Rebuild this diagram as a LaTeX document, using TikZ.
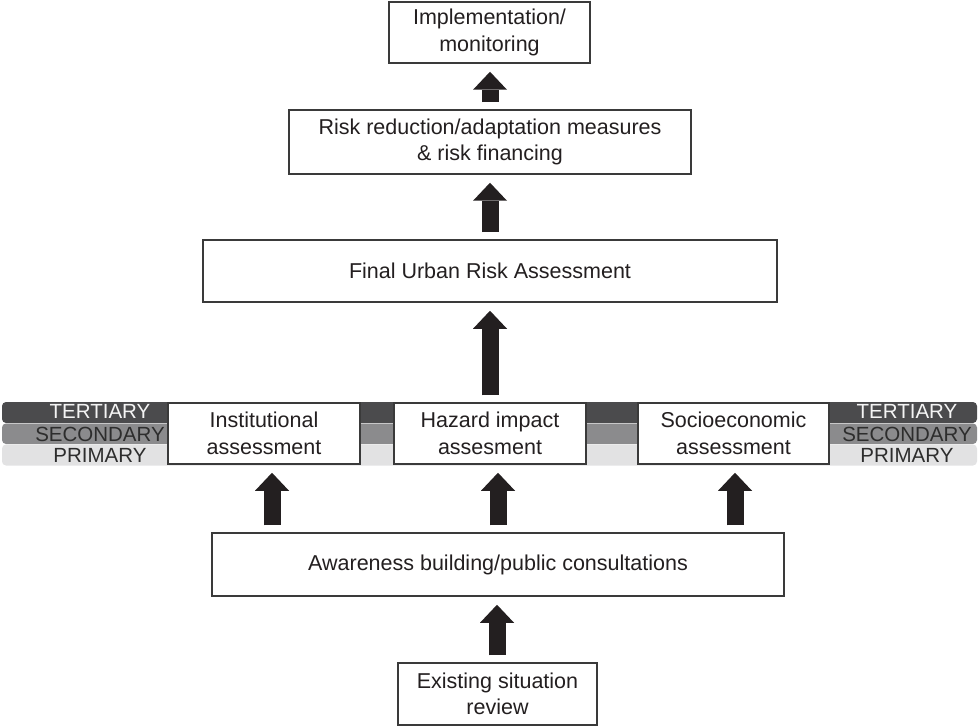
\documentclass[tikz,border=0pt]{standalone}
\usepackage{fontspec}
\setmainfont{Liberation Sans}
\usetikzlibrary{arrows.meta}
\definecolor{ink}{HTML}{231F20}
\definecolor{edge}{HTML}{3A3A3A}
\definecolor{bandT}{HTML}{4B4B4D}
\definecolor{bandS}{HTML}{8B8B8D}
\definecolor{bandP}{HTML}{E2E2E3}
\definecolor{tierdark}{HTML}{2D2D2D}
\definecolor{tierlight}{HTML}{F4F4F4}
\begin{document}
\begin{tikzpicture}[x=1pt, y=-1pt, font=\fontsize{21.5}{26.5}\selectfont]
	\tikzstyle{stage} = [draw=edge, line width=1.5pt, fill=white, text=ink, align=center, inner sep=0pt]
	\tikzstyle{band}  = [rounded corners=4pt]
	\tikzstyle{tier}  = [font=\fontsize{20.5}{20.5}\selectfont, inner sep=0pt, anchor=center]
	\tikzstyle{lift}  = [draw=ink, line width=17pt, -{Triangle[width=34pt, length=18pt, line width=0pt]}, shorten <=7pt, shorten >=8pt]

	\useasboundingbox (0,0) rectangle (979,727);

	% the three levels behind the middle row
	\fill[band, bandT] (2,402) rectangle (977,423);
	\fill[band, bandS] (2,423.5) rectangle (977,444);
	\fill[band, bandP] (2,444.5) rectangle (977,465.5);

	\foreach \lab/\y/\col in {TERTIARY/411/tierlight, SECONDARY/434/tierdark, PRIMARY/455/tierdark} {
		\node[tier, text=\col] (left-\lab) at (100, \y) {\lab};
		\node[tier, text=\col] (right-\lab) at (907, \y) {\lab};
	}

	\node[stage, minimum width=201pt, minimum height=61pt] (impl)  at (489.5, 32.5) {Implementation/\\monitoring};
	\node[stage, minimum width=402pt, minimum height=64pt] (risk)  at (490, 142)    {Risk reduction/adaptation measures\\\& risk financing};
	\node[stage, minimum width=574pt, minimum height=62pt] (final) at (490, 271)    {Final Urban Risk Assessment};

	\node[stage, minimum width=192pt, minimum height=61pt] (inst)  at (264, 433.5)  {Institutional\\assessment};
	\node[stage, minimum width=192pt, minimum height=61pt] (haz)   at (490, 433.5)  {Hazard impact\\assesment};
	\node[stage, minimum width=191pt, minimum height=61pt] (socio) at (733.5, 433.5){Socioeconomic\\assessment};

	\node[stage, minimum width=572pt, minimum height=63pt] (aware) at (498, 564.5)  {Awareness building/public consultations};
	\node[stage, minimum width=199pt, minimum height=62pt] (exist) at (497.5, 694)  {Existing situation\\review};

	\foreach \x/\from/\to in {490/risk/impl, 490/final/risk, 490/haz/final, 272/aware/inst, 498/aware/haz, 735/aware/socio, 497/exist/aware}
		\draw[lift] (\from.north -| \x,0) -- (\to.south -| \x,0);

\end{tikzpicture}
\end{document}
